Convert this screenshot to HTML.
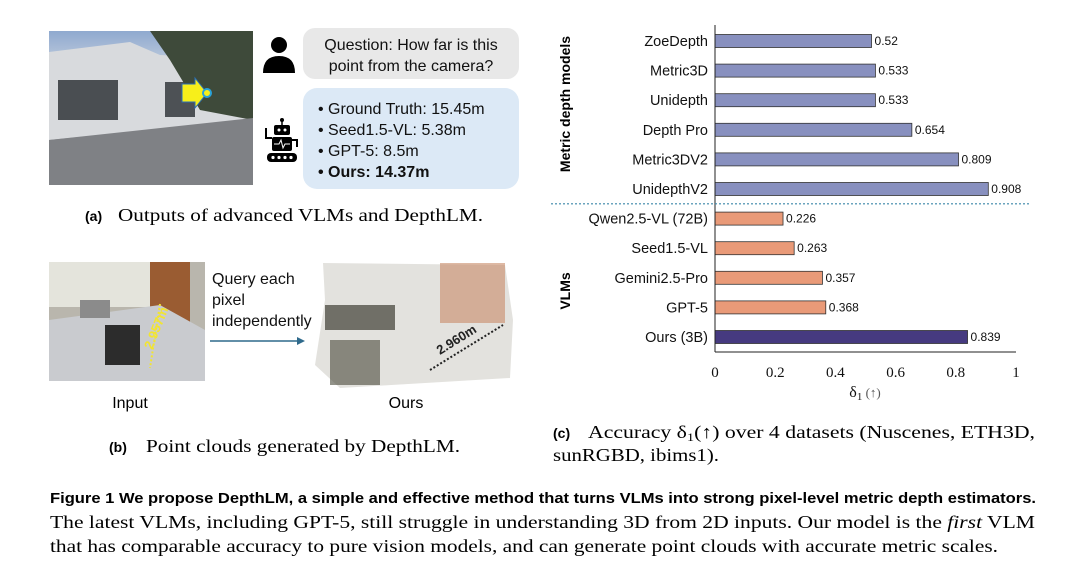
<!DOCTYPE html>
<html><head><meta charset="utf-8"><style>
html,body{margin:0;padding:0;background:#fff;width:1080px;height:563px;overflow:hidden}
svg{display:block}
.s{font-family:"Liberation Sans",sans-serif}
.r{font-family:"Liberation Serif",serif}
</style></head><body>
<svg width="1080" height="563" viewBox="0 0 1080 563">
<g>
<defs>
<linearGradient id="sky" x1="0" y1="0" x2="0" y2="1"><stop offset="0" stop-color="#8fa9cf"/><stop offset="1" stop-color="#c9d3e0"/></linearGradient>
</defs>
<rect x="49" y="31" width="204" height="154" fill="#8d8f93"/>
<rect x="49" y="31" width="204" height="40" fill="url(#sky)"/>
<polygon points="49,52 130,42 160,55 253,60 253,120 49,140" fill="#d8dadd"/>
<rect x="58" y="80" width="60" height="40" fill="#4a4e52"/>
<rect x="165" y="82" width="30" height="35" fill="#4d5155"/>
<path d="M150,31 L253,31 L253,120 L200,110 L170,60 Z" fill="#3e4a3a"/>
<polygon points="49,140 253,118 253,185 49,185" fill="#7f8185"/>
<polygon points="182,84 195,84 195,78 207,93 195,108 195,102 182,102" fill="#f7ef1a" stroke="#2b6fb5" stroke-width="1"/>
<circle cx="207" cy="93" r="4" fill="#f7ef1a" stroke="#29a3d9" stroke-width="2"/>
<g fill="#000">
<circle cx="279" cy="45" r="8"/>
<path d="M263,73 Q263,56 279,56 Q295,56 295,73 Z"/>
</g>
<g>
<circle cx="282" cy="120" r="2" fill="#000"/>
<line x1="282" y1="120" x2="282" y2="125" stroke="#000" stroke-width="1.5"/>
<rect x="274" y="125" width="16" height="10" rx="2" fill="#000"/>
<circle cx="279" cy="130" r="1.5" fill="#fff"/><circle cx="285" cy="130" r="1.5" fill="#fff"/>
<path d="M266,128 L266,138 L272,138" stroke="#000" stroke-width="2" fill="none"/>
<rect x="272" y="137" width="20" height="14" rx="2" fill="#000"/>
<path d="M274,144 L279,144 L281,140 L283,148 L285,144 L290,144" stroke="#fff" stroke-width="1" fill="none"/>
<path d="M292,140 L297,140 L297,147" stroke="#000" stroke-width="2" fill="none"/>
<rect x="267" y="153" width="30" height="9" rx="4" fill="#000"/>
<circle cx="273" cy="157.5" r="1.6" fill="#fff"/><circle cx="279" cy="157.5" r="1.6" fill="#fff"/><circle cx="285" cy="157.5" r="1.6" fill="#fff"/><circle cx="291" cy="157.5" r="1.6" fill="#fff"/>
</g>
<rect x="303" y="28" width="216" height="51" rx="12" fill="#e8e8e8"/>
<text class="s" x="411" y="50" font-size="16" text-anchor="middle" fill="#111">Question: How far is this</text>
<text class="s" x="411" y="71" font-size="16" text-anchor="middle" fill="#111">point from the camera?</text>
<rect x="303" y="88" width="216" height="101" rx="14" fill="#dce9f6"/>
<g class="s" font-size="16" fill="#111">
<text x="318" y="114">•  Ground Truth: 15.45m</text>
<text x="318" y="135">•  Seed1.5-VL: 5.38m</text>
<text x="318" y="156">•  GPT-5: 8.5m</text>
<text x="318" y="177" font-weight="bold">•  Ours: 14.37m</text>
</g>
<g>
<text class="s" x="85" y="221" font-size="14" font-weight="bold">(a)</text>
<text class="r" x="118" y="221" font-size="18" textLength="365" lengthAdjust="spacingAndGlyphs">Outputs of advanced VLMs and DepthLM.</text>
</g>
</g>
<g>
<rect x="49" y="262" width="156" height="119" fill="#b9b6ad"/>
<rect x="49" y="262" width="110" height="45" fill="#e4e4dc"/>
<rect x="150" y="262" width="40" height="65" fill="#9a5c32"/>
<polygon points="49,320 160,305 205,330 205,381 49,381" fill="#c9cbcf"/>
<rect x="80" y="300" width="30" height="18" fill="#8b8b8b"/>
<rect x="105" y="325" width="35" height="40" fill="#2c2c2c"/>
<line x1="160" y1="304" x2="150" y2="368" stroke="#f2e530" stroke-width="2" stroke-dasharray="2,2"/>
<text class="s" x="152" y="350" font-size="13" font-weight="bold" fill="#f2e530" transform="rotate(-68 152 350)">2.957m</text>
<text class="s" x="212" y="284" font-size="16" fill="#111">Query each</text>
<text class="s" x="212" y="305" font-size="16" fill="#111">pixel</text>
<text class="s" x="212" y="326" font-size="16" fill="#111">independently</text>
<line x1="210" y1="341" x2="300" y2="341" stroke="#2f6a8c" stroke-width="1.5"/>
<polygon points="305,341 297,337 297,345" fill="#2f6a8c"/>
<g>
<polygon points="323,263 505,265 513,320 510,378 340,388 315,365 325,300" fill="#dcdbd6" opacity="0.8"/>
<rect x="440" y="263" width="65" height="60" fill="#c88a68" opacity="0.6"/>
<rect x="325" y="305" width="70" height="25" fill="#3e3f34" opacity="0.7"/>
<rect x="330" y="340" width="50" height="45" fill="#4a4a3a" opacity="0.6"/>
<line x1="430" y1="370" x2="503" y2="325" stroke="#222" stroke-width="2" stroke-dasharray="2,2"/>
<text class="s" x="440" y="355" font-size="13" font-weight="bold" fill="#222" transform="rotate(-32 440 355)">2.960m</text>
</g>
<text class="s" x="130" y="408" font-size="16" text-anchor="middle">Input</text>
<text class="s" x="406" y="408" font-size="16" text-anchor="middle">Ours</text>
<g>
<text class="s" x="109" y="452" font-size="14" font-weight="bold">(b)</text>
<text class="r" x="146" y="452" font-size="18" textLength="314" lengthAdjust="spacingAndGlyphs">Point clouds generated by DepthLM.</text>
</g>
</g>
<g id="chart"></g>
<g>
<text class="s" x="553" y="438" font-size="14" font-weight="bold">(c)</text>
<text class="r" x="588" y="438" font-size="18" textLength="447" lengthAdjust="spacingAndGlyphs">Accuracy δ<tspan font-size="12" dy="3">1</tspan><tspan dy="-3">(↑) over 4 datasets (Nuscenes, ETH3D,</tspan></text>
<text class="r" x="553" y="461" font-size="18" textLength="166" lengthAdjust="spacingAndGlyphs">sunRGBD, ibims1).</text>
</g>
<text class="s" x="50" y="503" font-size="15" font-weight="bold" textLength="986" lengthAdjust="spacingAndGlyphs">Figure 1  We propose DepthLM, a simple and effective method that turns VLMs into strong pixel-level metric depth estimators.</text>
<text class="r" x="50" y="528" font-size="18" textLength="985" lengthAdjust="spacingAndGlyphs">The latest VLMs, including GPT-5, still struggle in understanding 3D from 2D inputs. Our model is the <tspan font-style="italic">first</tspan> VLM</text>
<text class="r" x="50" y="552" font-size="18" textLength="948" lengthAdjust="spacingAndGlyphs">that has comparable accuracy to pure vision models, and can generate point clouds with accurate metric scales.</text>
</svg>
<script>
const categories=["ZoeDepth","Metric3D","Unidepth","Depth Pro","Metric3DV2","UnidepthV2","Qwen2.5-VL (72B)","Seed1.5-VL","Gemini2.5-Pro","GPT-5","Ours (3B)"];
const values=[0.52,0.533,0.533,0.654,0.809,0.908,0.226,0.263,0.357,0.368,0.839];
const groups=["metric","metric","metric","metric","metric","metric","vlm","vlm","vlm","vlm","ours"];
const tickValues=[0,0.2,0.4,0.6,0.8,1];
const tickLabels=["0","0.2","0.4","0.6","0.8","1"];
const NS="http://www.w3.org/2000/svg";
const g=document.getElementById('chart');
const x0=715,x1=1016,yTop=41,step=29.6,barH=13,axisY=352;
const xs=v=>x0+(x1-x0)*v;
const ys=i=>yTop+i*step;
const colors={metric:"#8890bf",vlm:"#e99a78",ours:"#463a80"};
function mk(t,a){const e=document.createElementNS(NS,t);for(const k in a)e.setAttribute(k,a[k]);g.appendChild(e);return e;}
categories.forEach((c,i)=>{
  const r=mk('rect',{x:xs(0),y:ys(i)-barH/2,width:xs(values[i])-xs(0),height:barH,fill:colors[groups[i]],stroke:"#333","stroke-width":0.8});
  
  
  const l=mk('text',{x:xs(0)-7,y:ys(i)+5,"text-anchor":"end","font-size":14.5,"font-family":"Liberation Sans, sans-serif",fill:"#111"});
  l.textContent=c;
  
  
  const v=mk('text',{x:xs(values[i])+3,y:ys(i)+4,"font-size":12,"font-family":"Liberation Sans, sans-serif",fill:"#111"});
  v.textContent=String(values[i]);
  
  
});
const ya=mk('line',{x1:x0,y1:25,x2:x0,y2:axisY,stroke:"#222","stroke-width":1});


const xa=mk('line',{x1:x0,y1:axisY,x2:x1,y2:axisY,stroke:"#222","stroke-width":1});


const sep=mk('line',{x1:551,y1:(ys(5)+ys(6))/2,x2:1030,y2:(ys(5)+ys(6))/2,stroke:"#3a86a8","stroke-width":1.2,"stroke-dasharray":"2,2"});


tickValues.forEach((t,i)=>{
  const e=mk('text',{x:xs(t),y:377,"text-anchor":"middle","font-size":15,"font-family":"Liberation Serif, serif",fill:"#111"});
  e.textContent=tickLabels[i];
  
  
});
const xt=mk('text',{x:865,y:397,"text-anchor":"middle","font-size":16,"font-family":"Liberation Serif, serif",fill:"#111"});
xt.innerHTML='δ<tspan font-size="11" dy="3">1</tspan><tspan dy="-3" font-size="13" fill="#555"> (↑)</tspan>';


const g1=mk('text',{x:0,y:0,"font-size":14,"font-weight":"bold","font-family":"Liberation Sans, sans-serif","text-anchor":"middle",transform:"translate(570,104) rotate(-90)"});
g1.textContent="Metric depth models";


const g2=mk('text',{x:0,y:0,"font-size":14,"font-weight":"bold","font-family":"Liberation Sans, sans-serif","text-anchor":"middle",transform:"translate(570,291) rotate(-90)"});
g2.textContent="VLMs";


</script>
</body></html>
